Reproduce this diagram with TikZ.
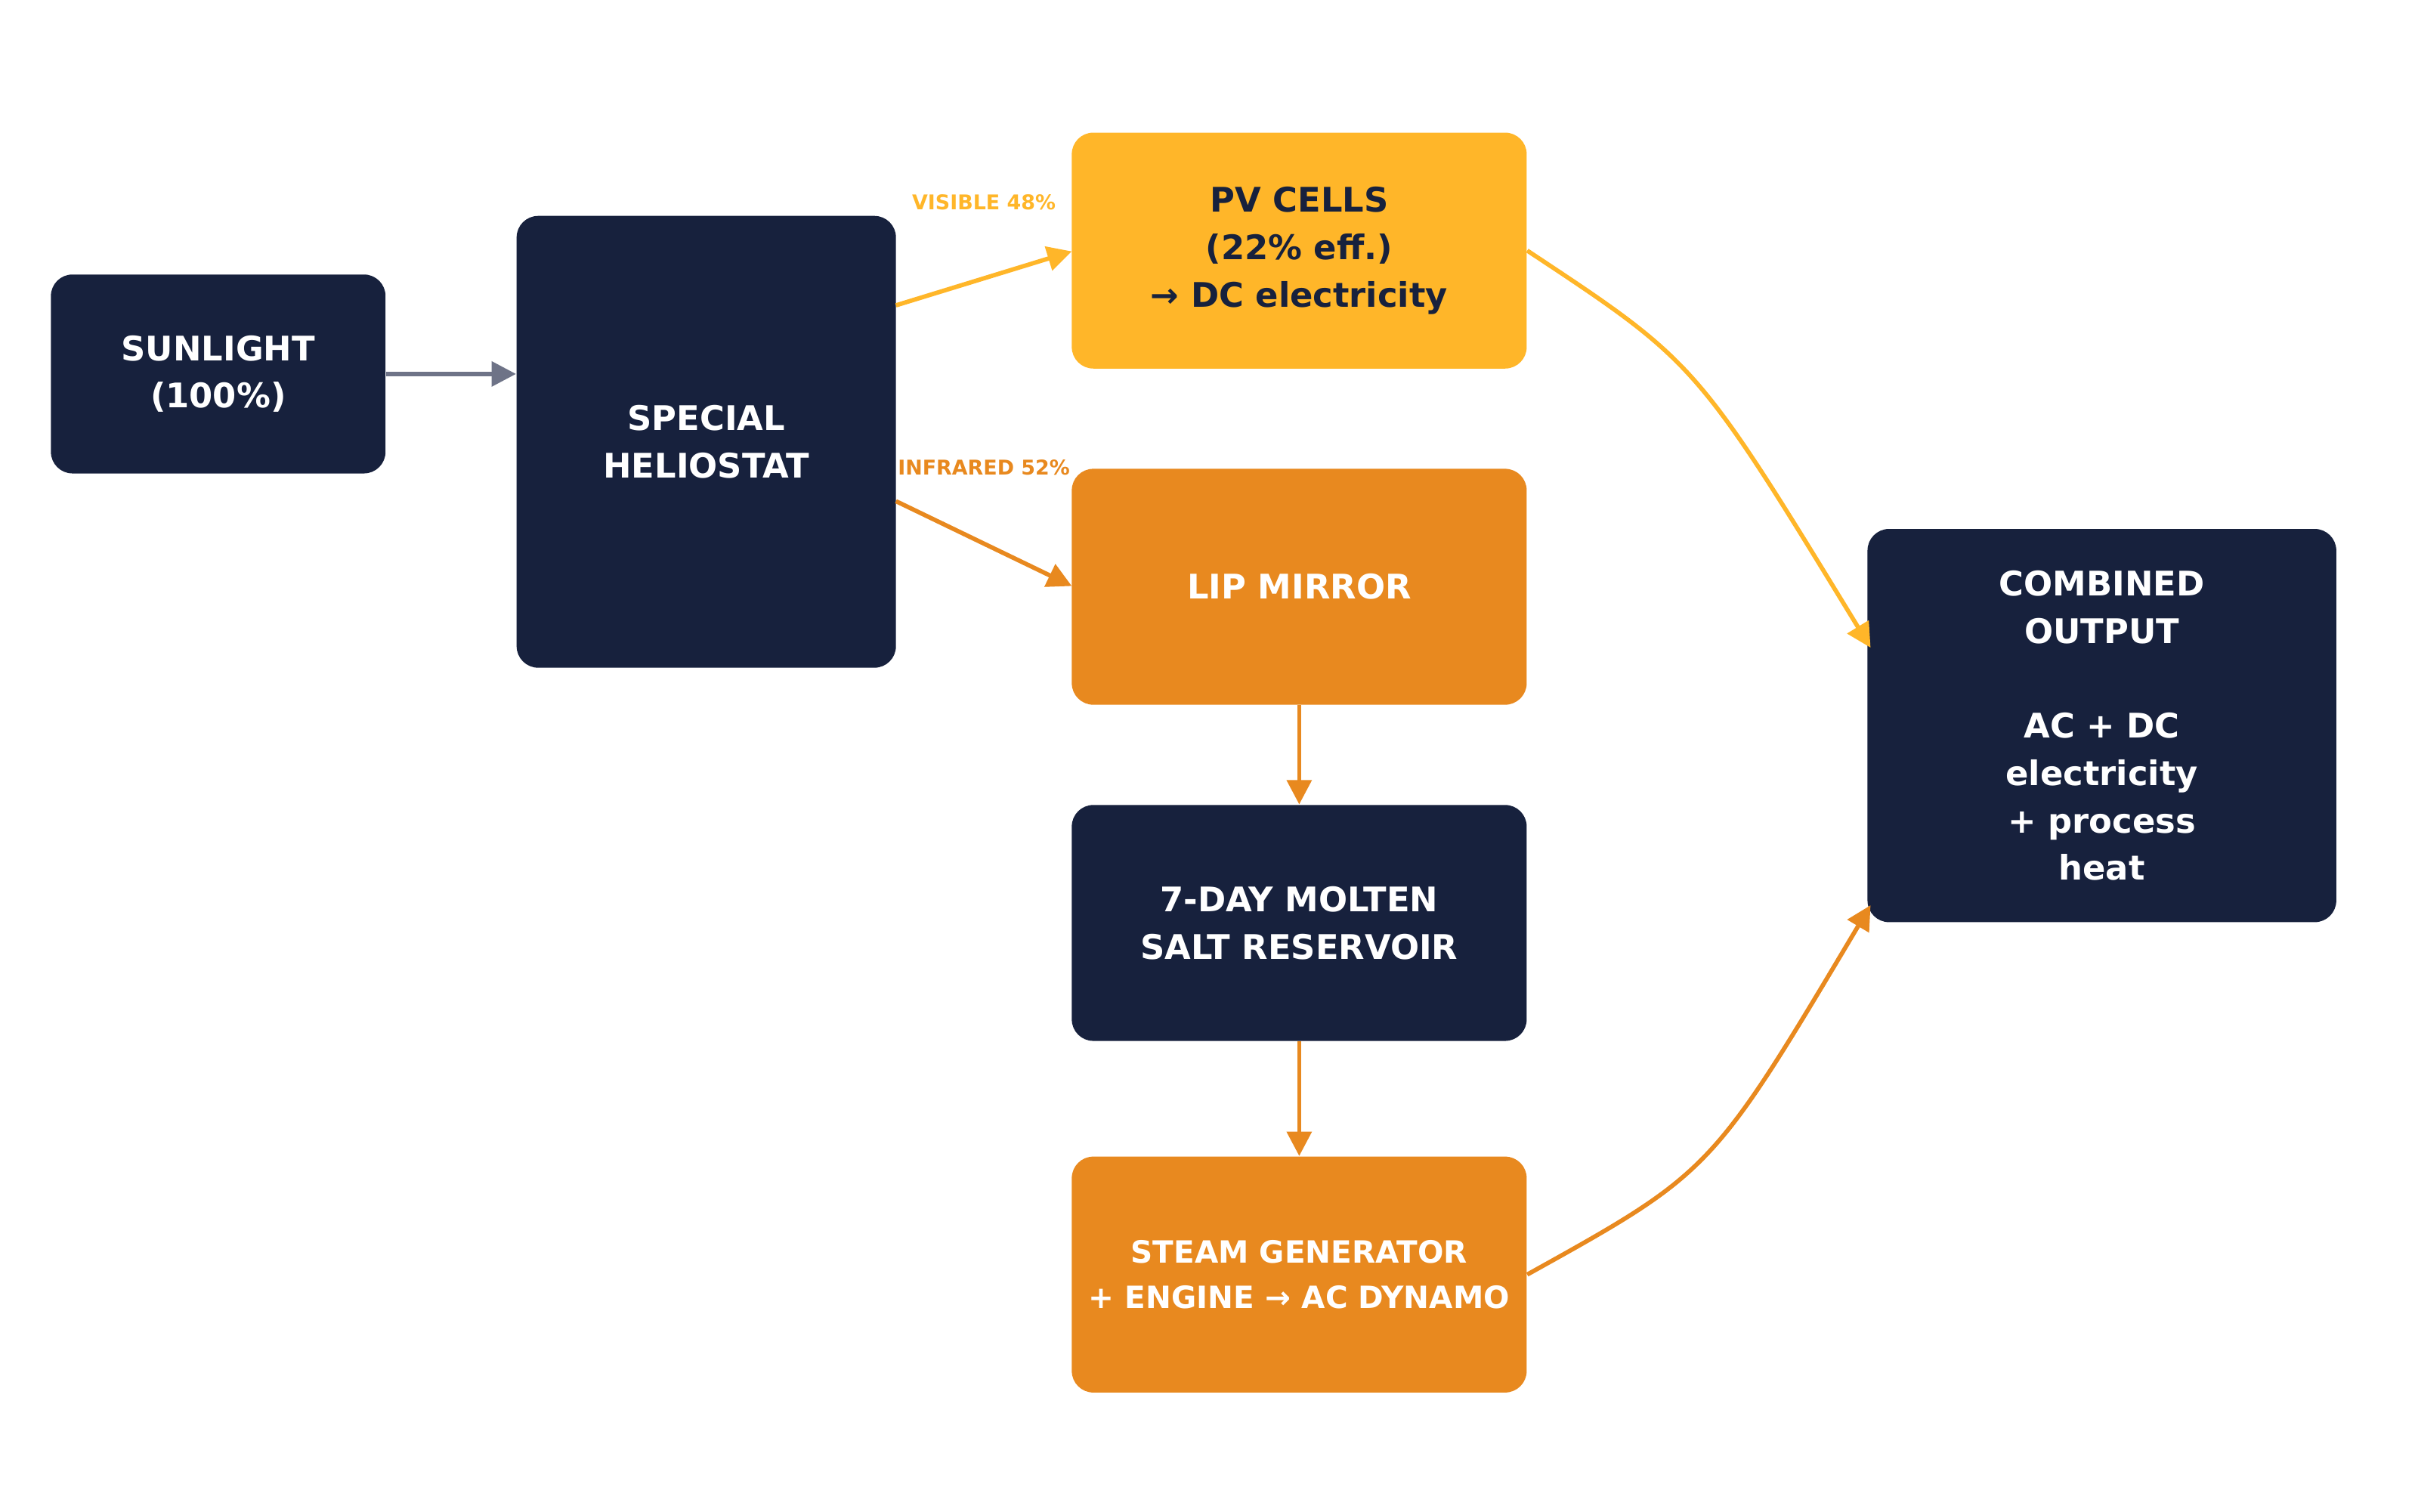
\documentclass[tikz,border=0pt]{standalone}
\usepackage{fontspec}
\setmainfont{DejaVu Sans}
\usetikzlibrary{arrows.meta}
\definecolor{navy}{HTML}{17213D}
\definecolor{yel}{HTML}{FFB629}
\definecolor{org}{HTML}{E8891F}
\definecolor{gry}{HTML}{6E7387}
\begin{document}
\begin{tikzpicture}[x=0.02cm,y=-0.02cm,
 box/.style={rounded corners=0.28cm,inner sep=0pt,align=center,font=\bfseries\fontsize{12.5}{17.5}\selectfont},
 arr/.style={line width=1.6pt,-{Triangle[length=9pt,width=9pt]}},
 lbl/.style={font=\bfseries\fontsize{7.5}{9}\selectfont}]
\useasboundingbox (0,0) rectangle (1568,980);
\node[box,fill=navy,text=white,minimum width=217*0.02cm,minimum height=129*0.02cm] (sun) at (141.5,242.5) {SUNLIGHT\\(100\%)};
\node[box,fill=navy,text=white,minimum width=246*0.02cm,minimum height=293*0.02cm] (hel) at (458,286.5) {SPECIAL\\HELIOSTAT};
\node[box,fill=yel,text=navy,minimum width=295*0.02cm,minimum height=153*0.02cm] (pv) at (842.5,162.5) {PV CELLS\\(22\% eff.)\\→ DC electricity};
\node[box,fill=org,text=white,minimum width=295*0.02cm,minimum height=153*0.02cm] (lip) at (842.5,380.5) {LIP MIRROR};
\node[box,fill=navy,text=white,minimum width=295*0.02cm,minimum height=153*0.02cm] (res) at (842.5,598.5) {7-DAY MOLTEN\\SALT RESERVOIR};
\node[box,fill=org,text=white,minimum width=295*0.02cm,minimum height=153*0.02cm,font=\bfseries\fontsize{11.3}{17}\selectfont] (stm) at (842.5,826.5) {STEAM GENERATOR\\+ ENGINE → AC DYNAMO};
\node[box,fill=navy,text=white,minimum width=304*0.02cm,minimum height=255*0.02cm] (com) at (1363,470.5) {COMBINED\\OUTPUT\\\\AC + DC\\electricity\\+ process\\heat};
\coordinate (h1) at (581,198); \coordinate (h2) at (581,325);
\coordinate (p1) at (695,163); \coordinate (l1) at (695,380);
\coordinate (c1) at (1213,420); \coordinate (c2) at (1213,587);
\draw[arr,gry] (sun.east) -- (hel.west|-sun.east);
\draw[arr,yel] (h1) -- (p1);
\draw[arr,org] (h2) -- (l1);
\draw[arr,org] (lip.south) -- (res.north);
\draw[arr,org] (res.south) -- (stm.north);
\draw[arr,yel] (pv.east) .. controls (1100,235) .. (c1);
\draw[arr,org] (stm.east) .. controls (1110,760) .. (c2);
\node[lbl,text=yel] (v) at (638,131) {VISIBLE 48\%};
\node[lbl,text=org] (ir) at (638,303) {INFRARED 52\%};
\end{tikzpicture}
\end{document}
